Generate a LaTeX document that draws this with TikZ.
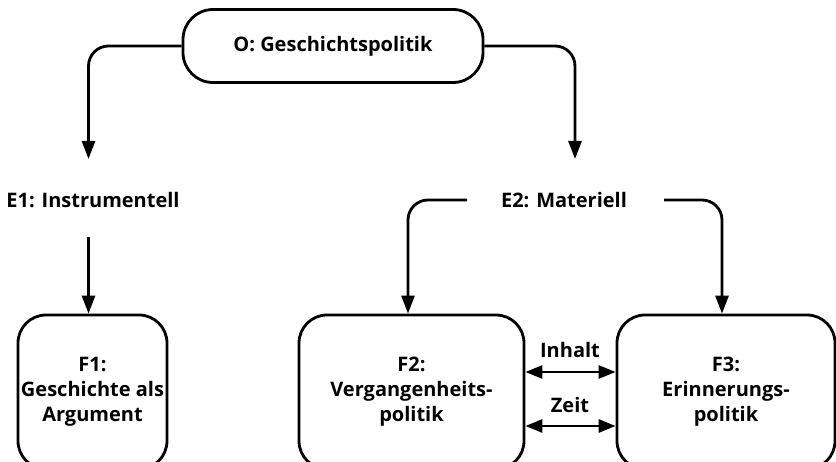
\documentclass[tikz,border=0pt]{standalone}
\usepackage{fontspec}
\setmainfont{Open Sans}
\usetikzlibrary{arrows.meta,calc}
\begin{document}
\begin{tikzpicture}[x=1pt,y=-1pt,
  lbl/.style={font=\bfseries\fontsize{20}{25}\selectfont, align=center, inner sep=0pt},
  fbox/.style={draw, line width=2.8pt, rounded corners=28pt, lbl},
  conn/.style={line width=2.8pt, rounded corners=20pt, -{Triangle[length=18pt,width=13pt]}},
  dconn/.style={line width=2.8pt, {Triangle[length=17pt,width=13pt]}-{Triangle[length=17pt,width=13pt]}}]
\useasboundingbox (0,0) rectangle (836,462);
\clip (0,0) rectangle (836,462);
\node[fbox, minimum width=300pt, minimum height=73pt, rounded corners=30pt] (O) at (333,46) {O: Geschichtspolitik};
\node[lbl] (E1) at (93,200) {E1: Instrumentell};
\node[lbl] (E2) at (564,200) {E2: Materiell};
\node[fbox, minimum width=149pt, minimum height=154pt] (F1) at (92.5,392) {F1:\\Geschichte als\\Argument};
\node[fbox, minimum width=225pt, minimum height=154pt] (F2) at (411.5,392) {F2:\\Vergangenheits-\\politik};
\node[fbox, minimum width=218pt, minimum height=154pt] (F3) at (726,392) {F3:\\Erinnerungs-\\politik};
\node[lbl] (I) at (570,350) {Inhalt};
\node[lbl] (Z) at (570,405) {Zeit};
\coordinate (a1) at (88.5,159);
\coordinate (a2) at (575,159);
\coordinate (e1s) at (88.5,237);
\coordinate (e2l) at (467,200);
\coordinate (e2r) at (664,200);
\draw[conn] (O.west) -| (a1);
\draw[conn] (O.east) -| (a2);
\draw[conn] (e1s) -- (e1s |- F1.north);
\draw[conn] (e2l) -| ([xshift=-3.5pt]F2.north);
\draw[conn] (e2r) -| ([xshift=-4pt]F3.north);
\draw[dconn] (F2.east |- 0,372) -- (F3.west |- 0,372);
\draw[dconn] (F2.east |- 0,426) -- (F3.west |- 0,426);
\end{tikzpicture}
\end{document}
